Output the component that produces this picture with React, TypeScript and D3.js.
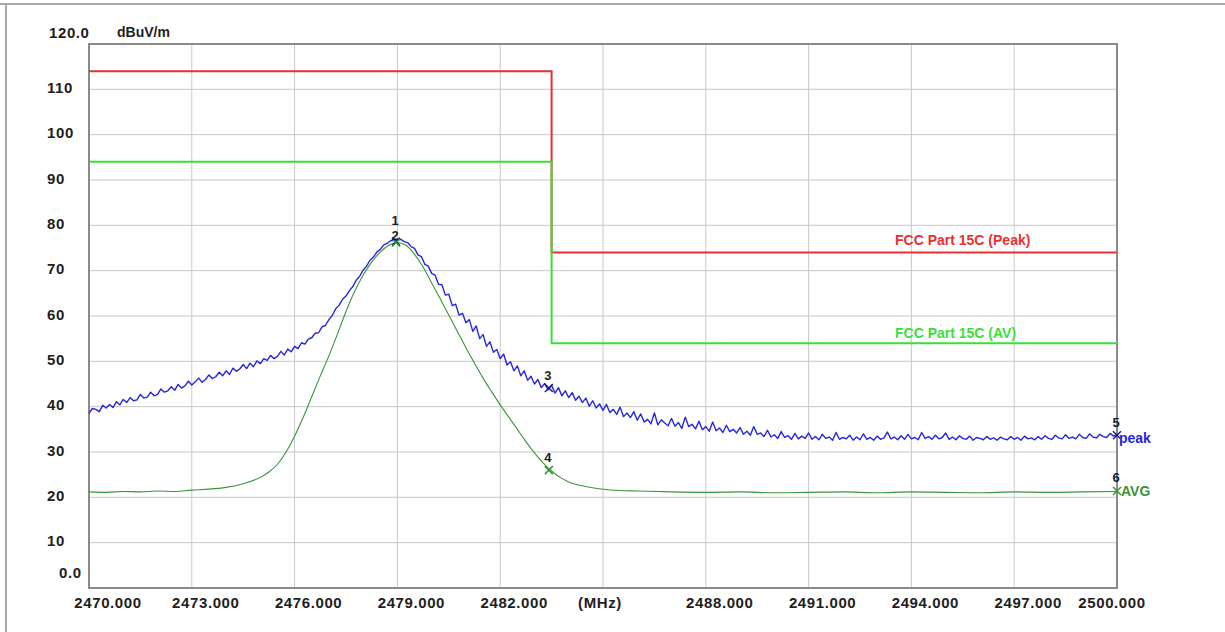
import React from 'react';
import * as d3 from 'd3';

// spectrum 2470-2500 MHz, radiated emission (dBuV/m)
const freqTicks = [2470, 2473, 2476, 2479, 2482, 2485, 2488, 2491, 2494, 2497, 2500];
const freqTickLabels = ['2470.000', '2473.000', '2476.000', '2479.000', '2482.000', '(MHz)', '2488.000', '2491.000', '2494.000', '2497.000', '2500.000'];
const levelTicks = [0, 10, 20, 30, 40, 50, 60, 70, 80, 90, 100, 110, 120];
const levelTickLabels = ['0.0', '10', '20', '30', '40', '50', '60', '70', '80', '90', '100', '110', '120.0'];

// peak trace, 0.1 MHz steps from 2470
const peakStart = 2470;
const peakStep = 0.1;
const peakLevels = [
  38.5, 39.6, 39.4, 38.9, 40.3, 39.7, 40.5, 39.8, 41.1, 40.4,
  41.6, 40.9, 42.0, 41.3, 41.5, 42.7, 41.9, 42.1, 43.2, 42.4,
  42.7, 43.9, 43.2, 43.5, 44.4, 43.6, 44.9, 44.1, 44.6, 45.6,
  44.8, 45.5, 46.3, 45.4, 46.0, 47.0, 46.2, 46.6, 47.6, 46.8,
  47.9, 47.1, 48.5, 47.8, 48.3, 49.3, 48.4, 49.6, 48.8, 50.1,
  49.5, 50.6, 50.2, 51.3, 50.6, 51.1, 52.2, 51.4, 52.7, 52.1,
  53.3, 52.8, 54.1, 53.8, 54.9, 55.2, 56.2, 56.3, 57.6, 57.9,
  59.2, 60.1, 61.6, 62.4, 63.7, 64.4, 65.6, 66.5, 67.9, 68.8,
  70.1, 71.0, 72.3, 73.0, 74.1, 74.7, 75.7, 76.0, 76.6, 76.7,
  76.8, 76.9, 76.4, 76.2, 75.3, 74.9, 73.5, 73.1, 71.4, 71.0,
  69.4, 69.0, 67.0, 66.9, 64.6, 64.8, 62.3, 62.6, 60.2, 60.6,
  58.5, 59.2, 56.6, 57.8, 55.0, 55.9, 53.3, 54.3, 52.0, 52.6,
  50.6, 51.6, 49.2, 49.9, 47.9, 49.0, 46.8, 47.9, 45.8, 46.7,
  45.0, 46.0, 44.2, 45.1, 43.7, 44.7, 43.0, 44.2, 42.4, 43.5,
  42.0, 43.1, 41.4, 42.3, 40.9, 41.9, 40.1, 41.3, 39.7, 40.6,
  39.2, 40.5, 38.7, 39.4, 38.3, 39.9, 37.8, 38.6, 37.6, 38.9,
  37.0, 38.4, 36.6, 37.2, 36.2, 38.6, 36.0, 37.1, 36.4, 35.8,
  37.4, 35.7, 36.5, 35.2, 37.7, 35.6, 36.1, 35.1, 36.8, 34.9,
  35.6, 34.6, 36.6, 34.7, 35.3, 34.3, 35.9, 34.5, 35.0, 34.2,
  35.4, 33.9, 34.6, 33.7, 35.6, 33.9, 34.2, 33.4, 34.8, 33.3,
  33.8, 33.0, 34.5, 33.2, 33.6, 32.8, 34.1, 32.9, 33.5, 33.0,
  34.2, 32.8, 33.4, 32.7, 33.9, 33.0, 33.3, 32.6, 34.3, 32.8,
  33.2, 32.9, 33.7, 32.6, 33.3, 32.7, 34.0, 32.8, 33.2, 32.6,
  33.5, 32.8, 33.1, 34.4, 32.9, 33.3, 32.7, 33.6, 32.8, 33.9,
  32.9, 33.2, 32.7, 34.3, 33.0, 33.4, 32.8, 33.7, 32.9, 33.2,
  34.2, 32.8, 33.3, 32.7, 33.6, 33.0, 32.8, 33.5, 32.6, 33.2,
  33.0, 32.7, 33.4, 32.8, 33.1, 32.6, 33.3, 32.9, 32.7, 33.4,
  32.8, 33.2, 32.6, 33.5, 32.9, 33.1, 32.7, 33.4, 32.8, 33.6,
  33.0, 32.8, 33.7, 33.1, 32.9, 33.8, 33.0, 33.3, 32.9, 33.9,
  33.2, 33.0, 34.0, 33.3, 33.1, 33.9, 33.4, 33.2, 34.1, 33.5,
  33.8,
];

// average trace
const avgFreqs = [
  2470, 2470.5, 2471, 2471.5, 2472, 2472.5, 2473, 2473.5, 2474, 2474.5, 2475, 2475.25, 2475.5, 2475.75,
  2476, 2476.25, 2476.5, 2476.75, 2477, 2477.25, 2477.5, 2477.75, 2478, 2478.25, 2478.5, 2478.75,
  2479, 2479.25, 2479.5, 2479.75, 2480, 2480.25, 2480.5, 2480.75, 2481, 2481.25, 2481.5, 2481.75,
  2482, 2482.25, 2482.5, 2482.75, 2483, 2483.25, 2483.5, 2483.75, 2484, 2484.5, 2485, 2485.5,
  2486, 2487, 2488, 2489, 2490, 2491, 2492, 2493, 2494, 2495, 2496, 2497, 2498, 2499, 2500,
];
const avgLevels = [
  21.2, 21.1, 21.3, 21.2, 21.4, 21.3, 21.6, 21.8, 22.2, 23.0, 24.4, 25.6, 27.3, 30.0,
  33.5, 37.6, 42.2, 46.8, 51.2, 56.0, 61.0, 65.4, 69.0, 71.9, 74.1, 75.6,
  76.2, 75.6, 73.6, 70.8, 67.3, 63.8, 60.2, 56.6, 53.0, 49.6, 46.3, 43.3,
  40.4, 37.7, 35.0, 32.3, 29.8, 27.6, 25.8, 24.4, 23.4, 22.4, 21.8, 21.5,
  21.4, 21.2, 21.1, 21.2, 21.0, 21.1, 21.2, 21.0, 21.2, 21.1, 21.0, 21.2, 21.1, 21.2, 21.3,
];

// FCC Part 15C limits
const peakLimitFreqs = [2470, 2483.5, 2483.5, 2500];
const peakLimitLevels = [114, 114, 74, 74];
const avgLimitFreqs = [2470, 2483.5, 2483.5, 2500];
const avgLimitLevels = [94, 94, 54, 54];

// markers
const markerNos = ['1', '2', '3', '4', '5', '6'];
const markerFreqs = [2478.96, 2478.96, 2483.42, 2483.42, 2500, 2500];
const markerLevels = [76.4, 76.2, 44.1, 26.0, 33.7, 21.4];
const markerTraces = ['peak', 'avg', 'peak', 'avg', 'peak', 'avg'];

const W = 1225;
const H = 632;
const left = 89, right = 1117, top = 44, bottom = 588;

const FONT = '"Liberation Sans", Arial, sans-serif';
const TXT = '#1e1e1e';
const BLUE = '#2626dc';
const GREEN_TRACE = '#3a943a';
const RED = '#e83030';
const GREEN_LIM = '#3ade3a';

export default function App() {
  const x = d3.scaleLinear().domain([2470, 2500]).range([left, right]);
  const y = d3.scaleLinear().domain([0, 120]).range([bottom, top]);

  const peakPts = peakLevels.map((v, i) => [peakStart + i * peakStep, v] as [number, number]);
  const avgPts = avgFreqs.map((f, i) => [f, avgLevels[i]] as [number, number]);

  const line = d3.line<[number, number]>().x(d => x(d[0])).y(d => y(d[1]));
  const smooth = d3.line<[number, number]>().x(d => x(d[0])).y(d => y(d[1])).curve(d3.curveMonotoneX);

  const limitPath = (fs: number[], ls: number[]) => line(fs.map((f, i) => [f, ls[i]] as [number, number])) || '';

  const xLabelPos = (i: number) => {
    const gx = x(freqTicks[i]);
    if (i === 0) return gx + 19;
    if (i === freqTicks.length - 1) return gx - 5;
    if (freqTickLabels[i] === '(MHz)') return gx - 3;
    return gx + 14;
  };

  return (
    <div style={{ position: 'absolute', left: 0, top: 0 }}>
      <svg width={W} height={H} style={{ display: 'block', background: '#fff' }}>
        {/* window border */}
        <line x1={0} x2={W} y1={4} y2={4} stroke="#a8a8a8" strokeWidth={2} />
        <line x1={6} x2={6} y1={4} y2={H} stroke="#a8a8a8" strokeWidth={2} />

        {/* grid */}
        {freqTicks.slice(1, -1).map(f => (
          <line key={'gx' + f} x1={x(f)} x2={x(f)} y1={top} y2={bottom} stroke="#c8c8c8" strokeWidth={1} />
        ))}
        {levelTicks.slice(1, -1).map(v => (
          <line key={'gy' + v} x1={left} x2={right} y1={y(v)} y2={y(v)} stroke="#c8c8c8" strokeWidth={1} />
        ))}
        <rect x={left} y={top} width={right - left} height={bottom - top} fill="none" stroke="#8a8a8a" strokeWidth={2} />

        {/* y labels */}
        {levelTicks.map((v, i) => {
          let lx = 47, ly = y(v) - 2;
          if (i === 0) { lx = 59; ly = y(v) - 16; }
          if (i === levelTicks.length - 1) { lx = 49; ly = y(v) - 12; }
          return (
            <text key={'yl' + v} x={lx} y={ly} dominantBaseline="central" fontFamily={FONT} fontWeight="bold"
              fontSize={15} fill={TXT} letterSpacing={0.6}>{levelTickLabels[i]}</text>
          );
        })}
        <text x={117} y={32} dominantBaseline="central" fontFamily={FONT} fontWeight="bold" fontSize={14} fill={TXT}>dBuV/m</text>

        {/* x labels */}
        {freqTicks.map((f, i) => (
          <text key={'xl' + f} x={xLabelPos(i)} y={602} textAnchor="middle" dominantBaseline="central" fontFamily={FONT}
            fontWeight="bold" fontSize={15} fill={TXT} letterSpacing={0.6}>{freqTickLabels[i]}</text>
        ))}

        {/* limit lines */}
        <path d={limitPath(peakLimitFreqs, peakLimitLevels)} fill="none" stroke={RED} strokeWidth={2} />
        <path d={limitPath(avgLimitFreqs, avgLimitLevels)} fill="none" stroke={GREEN_LIM} strokeWidth={2} />
        <text x={895} y={240} dominantBaseline="central" fontFamily={FONT} fontWeight="bold" fontSize={14} fill={RED}>FCC Part 15C (Peak)</text>
        <text x={895} y={333} dominantBaseline="central" fontFamily={FONT} fontWeight="bold" fontSize={14} fill={GREEN_LIM}>FCC Part 15C (AV)</text>

        {/* traces */}
        <path d={smooth(avgPts) || ''} fill="none" stroke={GREEN_TRACE} strokeWidth={1.1} />
        <path d={line(peakPts) || ''} fill="none" stroke={BLUE} strokeWidth={1.4} strokeLinejoin="round" />

        {/* markers */}
        {markerNos.map((n, i) => {
          const mx = x(markerFreqs[i]);
          const my = y(markerLevels[i]);
          const col = markerTraces[i] === 'peak' ? '#1c1c86' : '#2e9a2e';
          const labelDy = n === '2' ? -7 : (n === '1' ? -21 : -13);
          return (
            <g key={'m' + n}>
              <line x1={mx - 4} x2={mx + 4} y1={my - 4} y2={my + 4} stroke={col} strokeWidth={1.5} />
              <line x1={mx - 4} x2={mx + 4} y1={my + 4} y2={my - 4} stroke={col} strokeWidth={1.5} />
              <text x={mx - 1} y={my + labelDy} textAnchor="middle" dominantBaseline="central" fontFamily={FONT}
                fontWeight="bold" fontSize={13} fill={TXT}>{n}</text>
            </g>
          );
        })}
        <text x={x(2500) + 2} y={y(33.7) + 3} dominantBaseline="central" fontFamily={FONT} fontWeight="bold" fontSize={14} fill={BLUE}>peak</text>
        <text x={x(2500) + 4} y={y(21.4)} dominantBaseline="central" fontFamily={FONT} fontWeight="bold" fontSize={14} fill={GREEN_TRACE}>AVG</text>
      </svg>
    </div>
  );
}
